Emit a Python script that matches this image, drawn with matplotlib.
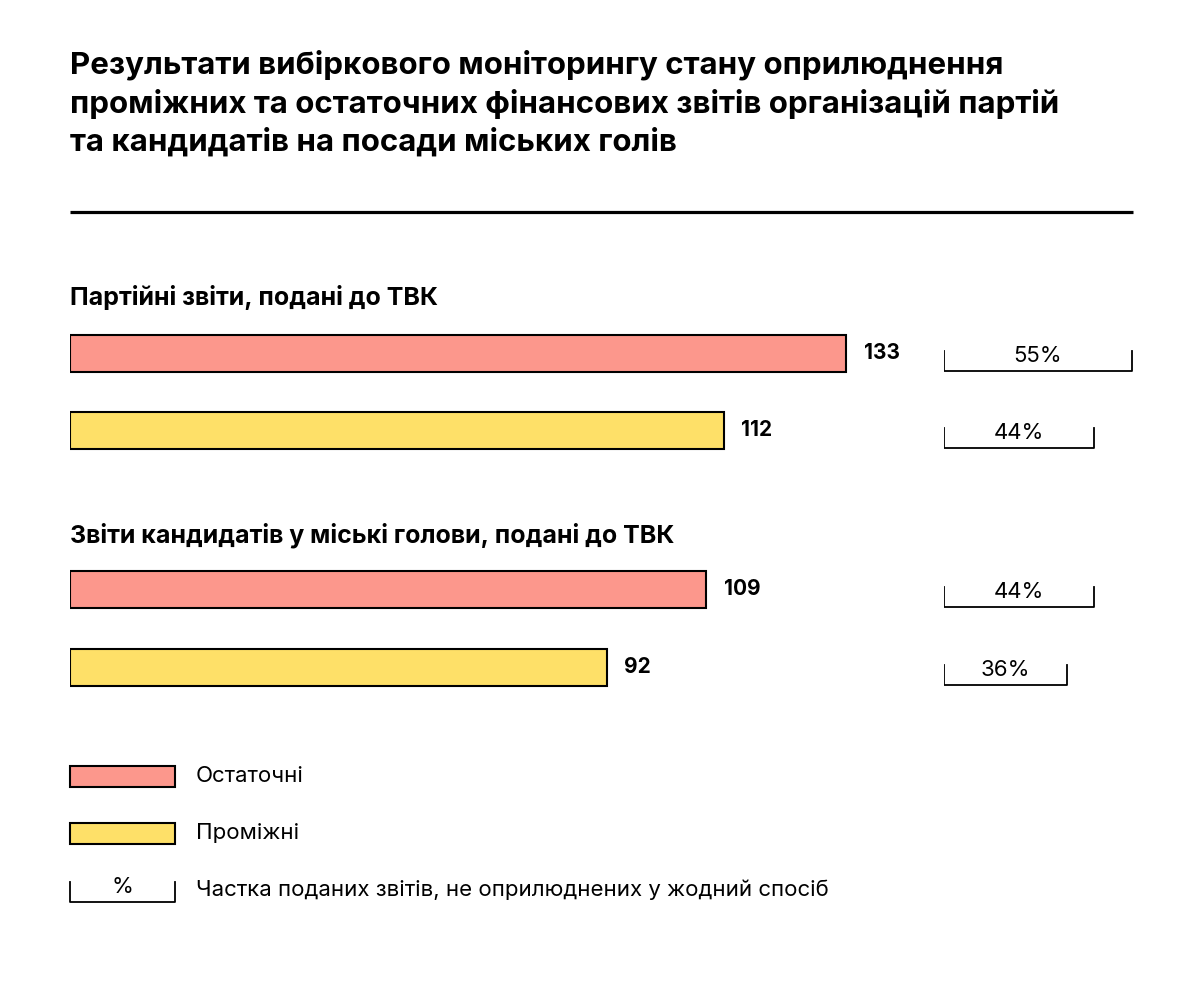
import matplotlib
matplotlib.use("Agg")
import matplotlib.pyplot as plt

plt.rcParams['font.family'] = ['Inter', 'DejaVu Sans']

title = ("Результати вибіркового моніторингу стану оприлюднення\n"
         "проміжних та остаточних фінансових звітів організацій партій\n"
         "та кандидатів на посади міських голів")
groups = ["Партійні звіти, подані до ТВК", "Звіти кандидатів у міські голови, подані до ТВК"]
final_vals = [133, 109]
interim_vals = [112, 92]
final_pct = [55, 44]
interim_pct = [44, 36]
legend_labels = ["Остаточні", "Проміжні", "Частка поданих звітів, не оприлюднених у жодний спосіб"]

PINK = "#FC978C"
YELLOW = "#FEE068"
W, H = 1200, 990
fig = plt.figure(figsize=(12, 9.9), dpi=100)

ax = fig.add_axes([0, 0, 1, 1])
ax.set_xlim(0, W); ax.set_ylim(H, 0); ax.axis('off')

PXU = 5.835
axb = fig.add_axes([70 / W, 0, (W - 70) / W, 1])
axb.set_xlim(0, (W - 70) / PXU); axb.set_ylim(H, 0); axb.axis('off')
PXP = 3.42
axp = fig.add_axes([944 / W, 0, (W - 944) / W, 1])
axp.set_xlim(0, (W - 944) / PXP); axp.set_ylim(H, 0); axp.axis('off')

ax.text(70, 50, title, fontsize=22.5, fontweight='bold', va='top', ha='left', linespacing=1.35)
ax.plot([70, 1133], [212, 212], color='black', lw=2.3, solid_capstyle='butt')

heads_y = [298, 535]
bar_y = [[353, 430], [589, 667]]
bh = 37
for g in range(2):
    ax.text(70, heads_y[g], groups[g], fontsize=18, fontweight='bold', va='center', ha='left')
    for vals, pcts, col, yc in ((final_vals, final_pct, PINK, bar_y[g][0]),
                                (interim_vals, interim_pct, YELLOW, bar_y[g][1])):
        v = vals[g]; p = pcts[g]
        axb.barh(yc, v, height=bh, left=0, color=col, edgecolor='black', linewidth=1.5)
        axb.text(v + 3, yc, str(v), fontsize=15, fontweight='bold', va='center', ha='left')
        yb = yc + 18
        axp.plot([0, 0, p, p], [yb - 20, yb, yb, yb - 20], color='black', lw=1.3)
        axp.text(p / 2, yb - 5, f"{p}%", fontsize=16, va='bottom', ha='center')

ax.add_patch(plt.Rectangle((70, 766), 105, 21, facecolor=PINK, edgecolor='black', lw=1.5))
ax.add_patch(plt.Rectangle((70, 823), 105, 21, facecolor=YELLOW, edgecolor='black', lw=1.5))
ax.plot([70, 70, 175, 175], [882, 902, 902, 882], color='black', lw=1.3)
ax.text(122, 897, "%", fontsize=16, ha='center', va='bottom')
ax.text(196, 776, legend_labels[0], fontsize=16, va='center', ha='left')
ax.text(196, 833, legend_labels[1], fontsize=16, va='center', ha='left')
ax.text(196, 890, legend_labels[2], fontsize=16, va='center', ha='left')

fig.savefig("out.png", dpi=100, facecolor='white')
